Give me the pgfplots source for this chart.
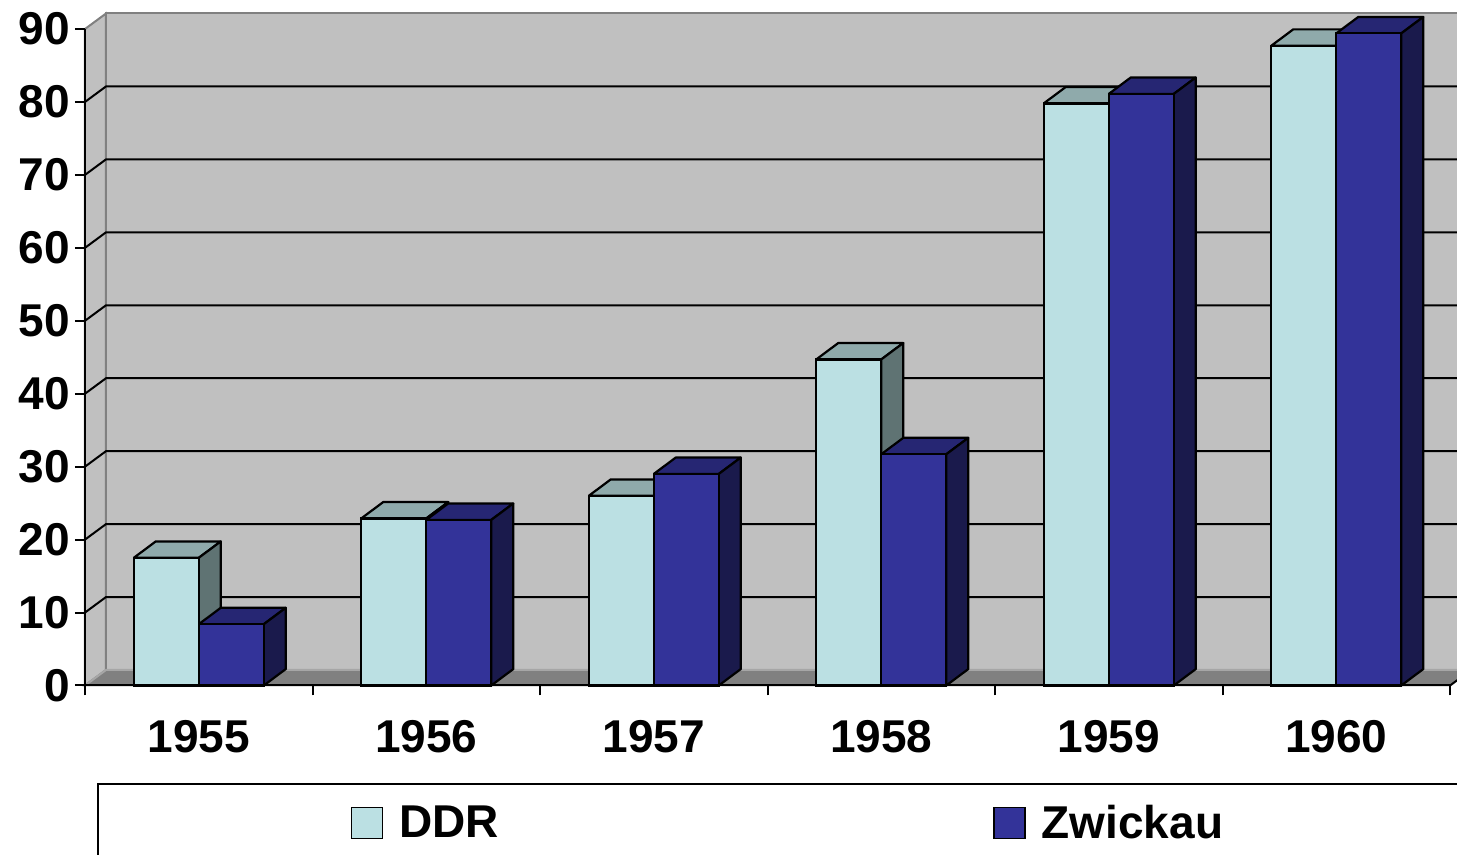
\documentclass[border=0pt]{standalone}
\usepackage{fontspec}
\setmainfont{Liberation Sans}
\usepackage{pgfplots}
\usepackage{pgfplotstable}
\pgfplotsset{compat=1.18}
\definecolor{wall}{HTML}{C0C0C0}
\definecolor{floorc}{HTML}{808080}
\definecolor{ddrfront}{HTML}{BBE0E3}
\definecolor{ddrtop}{HTML}{8FAAAB}
\definecolor{ddrside}{HTML}{5F7373}
\definecolor{zwfront}{HTML}{333399}
\definecolor{zwtop}{HTML}{262673}
\definecolor{zwside}{HTML}{1A1A4C}
\pgfplotstableread{
x ddr zw
0 17.5 8.4
1 22.9 22.7
2 26.0 29.0
3 44.7 31.7
4 79.8 81.1
5 87.7 89.4
}\data
% 3D faces (top and right side) of a bar: #1 left x, #2 value, #3 top colour, #4 side colour
\newcommand\cube[4]{%
  \pgfmathsetmacro\xa{#1}\pgfmathsetmacro\xb{#1+0.2857}%
  \pgfmathsetmacro\xc{#1+0.0967}\pgfmathsetmacro\xd{#1+0.2857+0.0967}%
  \pgfmathsetmacro\ya{#2}\pgfmathsetmacro\yb{#2+2.25}%
  \addplot[fill=#3,draw=black,line width=1.1pt,line join=round,forget plot]
    coordinates {(\xa,\ya) (\xc,\yb) (\xd,\yb) (\xb,\ya) (\xa,\ya)};
  \addplot[fill=#4,draw=black,line width=1.1pt,line join=round,forget plot]
    coordinates {(\xb,0) (\xd,2.25) (\xd,\yb) (\xb,\ya) (\xb,0)};
}
\begin{document}
\begin{tikzpicture}
\path[use as bounding box] (0,0) rectangle (728.5pt,427.5pt);
\clip (0,0) rectangle (728.5pt,427.5pt);
\draw[line width=1pt] (49pt,-10pt) -- (49pt,35.5pt) -- (740pt,35.5pt);
\begin{axis}[
  at={(42.5pt,84.75pt)}, anchor=south west,
  scale only axis, width=682.5pt, height=328.25pt,
  xmin=-0.5, xmax=5.5, ymin=0, ymax=90,
  clip=false, axis on top,
  axis x line=bottom, axis y line=left,
  axis line style={-, line width=1pt, black},
  tick align=outside,
  ytick={0,10,...,90},
  major tick length=5pt, minor tick length=5pt,
  ytick style={line width=1pt, black},
  major x tick style={draw=none},
  minor x tick style={line width=1pt, black},
  xtick={0,1,2,3,4,5},
  xticklabels={1955,1956,1957,1958,1959,1960},
  minor xtick={-0.5,0.5,1.5,2.5,3.5,4.5,5.5},
  /pgf/number format/assume math mode=true,
  yticklabel style={font=\fontsize{23}{27}\selectfont\bfseries, inner sep=2.5pt},
  xticklabel style={font=\fontsize{23}{27}\selectfont\bfseries, inner sep=0pt, yshift=-12pt},
  legend columns=2,
  legend cell align=left,
  legend style={draw=none, fill=none, inner sep=0pt, outer sep=0pt,
    at={(0.19487,-0.20944)}, anchor=west,
    font=\fontsize{23}{27}\selectfont\bfseries,
    nodes={inner sep=0pt},
    /tikz/every odd column/.append style={column sep=8pt},
    /tikz/every even column/.append style={column sep=247pt}},
]
% walls and floor
\filldraw[fill=wall, draw=floorc, line width=1pt] (-0.4077,2.125) -- (-0.4077,92.125) -- (5.7,92.125) -- (5.7,2.125) -- cycle;
\filldraw[fill=wall, draw=floorc, line width=1pt] (-0.5,0) -- (-0.4077,2.125) -- (-0.4077,92.125) -- (-0.5,90) -- cycle;
\filldraw[fill=floorc, draw=floorc!70!white, line width=1pt] (-0.5,0) -- (5.5,0) -- (5.5923,2.125) -- (-0.4077,2.125) -- cycle;
\draw[black, line width=1pt] (5.5,0) -- (5.5923,2.125);
% grid lines
\draw[line width=1pt] (-0.5,10) -- (-0.4077,12.125) -- (5.7,12.125);
\draw[line width=1pt] (-0.5,20) -- (-0.4077,22.125) -- (5.7,22.125);
\draw[line width=1pt] (-0.5,30) -- (-0.4077,32.125) -- (5.7,32.125);
\draw[line width=1pt] (-0.5,40) -- (-0.4077,42.125) -- (5.7,42.125);
\draw[line width=1pt] (-0.5,50) -- (-0.4077,52.125) -- (5.7,52.125);
\draw[line width=1pt] (-0.5,60) -- (-0.4077,62.125) -- (5.7,62.125);
\draw[line width=1pt] (-0.5,70) -- (-0.4077,72.125) -- (5.7,72.125);
\draw[line width=1pt] (-0.5,80) -- (-0.4077,82.125) -- (5.7,82.125);
% DDR
\cube{-0.2857}{17.5}{ddrtop}{ddrside}
\cube{0.7143}{22.9}{ddrtop}{ddrside}
\cube{1.7143}{26.0}{ddrtop}{ddrside}
\cube{2.7143}{44.7}{ddrtop}{ddrside}
\cube{3.7143}{79.8}{ddrtop}{ddrside}
\cube{4.7143}{87.7}{ddrtop}{ddrside}
\addplot[ybar, bar width=0.2857, bar shift=-0.14285, fill=ddrfront, draw=black, line width=1.1pt, forget plot] table[x=x,y=ddr] {\data};
% Zwickau
\cube{0}{8.4}{zwtop}{zwside}
\cube{1}{22.7}{zwtop}{zwside}
\cube{2}{29.0}{zwtop}{zwside}
\cube{3}{31.7}{zwtop}{zwside}
\cube{4}{81.1}{zwtop}{zwside}
\cube{5}{89.4}{zwtop}{zwside}
\addplot[ybar, bar width=0.2857, bar shift=0.14285, fill=zwfront, draw=black, line width=1.1pt, forget plot] table[x=x,y=zw] {\data};
\addlegendimage{legend image code/.code={\draw[fill=ddrfront,draw=black,line width=0.75pt] (0pt,-7.75pt) rectangle (15.5pt,7.75pt);}}
\addlegendentry{DDR}
\addlegendimage{legend image code/.code={\draw[fill=zwfront,draw=black,line width=0.75pt] (0pt,-7.75pt) rectangle (15.5pt,7.75pt);}}
\addlegendentry{Zwickau}
\end{axis}
\end{tikzpicture}
\end{document}
